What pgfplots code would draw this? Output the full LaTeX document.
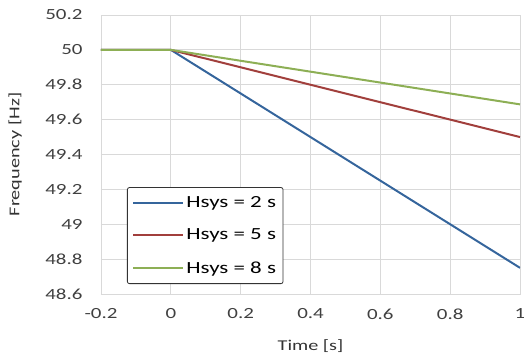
\documentclass[border=0pt]{standalone}
\usepackage{pgfplots}
\pgfplotsset{compat=1.18}
\usepackage{fontspec}
\setmainfont[FakeStretch=1.35]{Carlito}
\definecolor{xblue}{HTML}{35659C}
\definecolor{xred}{HTML}{A13F3C}
\definecolor{xgreen}{HTML}{8DAF55}
\definecolor{xgrid}{HTML}{D9D9D9}
\begin{document}
\begin{tikzpicture}
\begin{axis}[
  scale only axis,
  width=419pt, height=279pt,
  xmin=-0.2, xmax=1, ymin=48.6, ymax=50.2,
  xtick={-0.2,0,0.2,0.4,0.6,0.8,1},
  ytick={48.6,48.8,49,49.2,49.4,49.6,49.8,50,50.2},
  xticklabels={-0.2,0,0.2,0.4,0.6,0.8,1},
  yticklabels={48.6,48.8,49,49.2,49.4,49.6,49.8,50,50.2},
  grid=major,
  major grid style={xgrid, line width=0.8pt},
  axis line style={xgrid, line width=0.8pt},
  tick style={draw=none},
  ticklabel style={font=\fontsize{15.5}{17}\selectfont, text=black!75},
  yticklabel style={xshift=-15pt},
  xticklabel style={yshift=-11pt},
  xlabel={Time [s]}, ylabel={Frequency [Hz]},
  label style={font=\fontsize{15}{17}\selectfont, text=black!80},
  xlabel style={at={(axis description cs:0.5,-0.186)}, anchor=center},
  ylabel style={at={(axis description cs:-0.205,0.5)}, anchor=center},
  legend style={at={(26pt,10pt)}, anchor=south west, draw=black!80, line width=0.8pt, rounded corners=2pt,
    font=\fontsize{17}{19}\selectfont, row sep=16pt, inner xsep=5pt, inner ysep=7pt},
  legend cell align=left,
  legend image code/.code={\draw[#1, line width=2pt] (0cm,0cm) -- (50pt,0cm);},
]
\addplot[xblue, line width=2pt] coordinates {(-0.2,50) (0,50) (1,48.75)};
\addlegendentry{Hsys = 2 s}
\addplot[xred, line width=2pt] coordinates {(-0.2,50) (0,50) (1,49.5)};
\addlegendentry{Hsys = 5 s}
\addplot[xgreen, line width=2pt] coordinates {(-0.2,50) (0,50) (1,49.6875)};
\addlegendentry{Hsys = 8 s}
\end{axis}
\pgfresetboundingbox
\path ([shift={(-101pt,-65pt)}]current axis.south west) rectangle ([shift={(4pt,15pt)}]current axis.north east);
\end{tikzpicture}
\end{document}
